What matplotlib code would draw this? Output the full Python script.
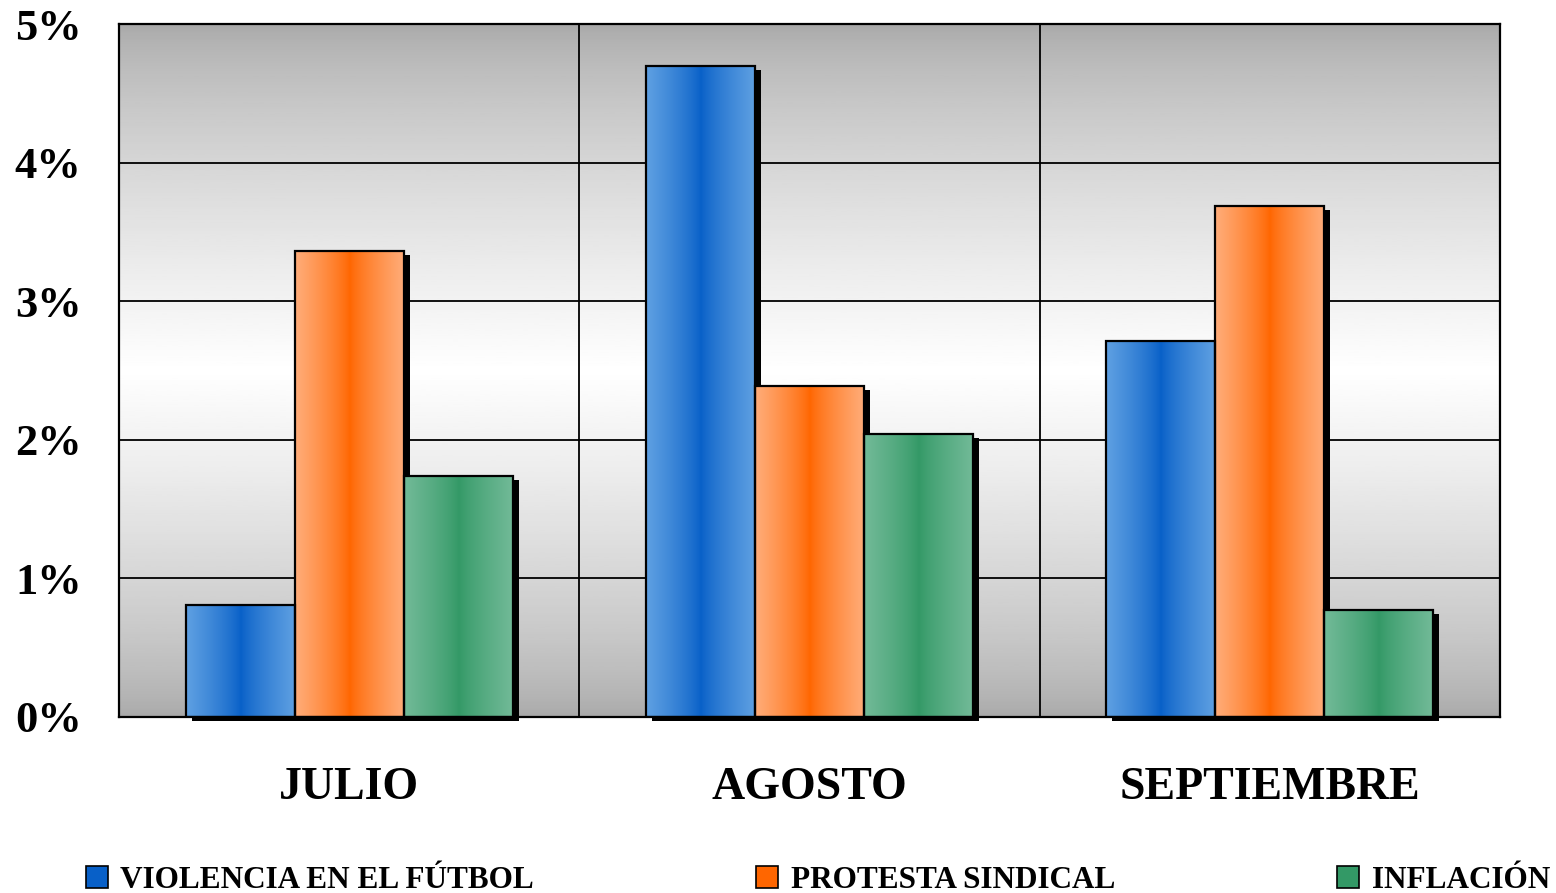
import numpy as np
import matplotlib
matplotlib.use('Agg')
import matplotlib.pyplot as plt
import matplotlib.transforms as mtransforms
from matplotlib.colors import LinearSegmentedColormap
from matplotlib.patches import Patch

# data
months = ['JULIO', 'AGOSTO', 'SEPTIEMBRE']
series = ['VIOLENCIA EN EL FÚTBOL', 'PROTESTA SINDICAL', 'INFLACIÓN']
violencia = [0.81, 4.70, 2.71]
protesta = [3.36, 2.39, 3.69]
inflacion = [1.74, 2.04, 0.77]
values = [violencia, protesta, inflacion]

# light edge / dark centre for each series
edge_colors = ['#5fa0e2', '#ffad7a', '#72ba98']
mid_colors = ['#0860c8', '#ff6600', '#339966']

plt.rcParams['font.family'] = ['Liberation Serif', 'DejaVu Serif']
plt.rcParams['font.weight'] = 'bold'

fig = plt.figure(figsize=(15.56, 8.93), dpi=100)
ax = fig.add_axes([119/1556, 1 - 717/893, (1500 - 119)/1556, (717 - 24)/893])

x = np.arange(len(months))
width = 0.237

# background: gray at top and bottom, white in the middle
t = np.linspace(0, 1, 256)
bg = 0.66 + 0.34 * (1 - np.abs(t - 0.5) / 0.5) ** 0.7
ax.imshow(bg[:, None], cmap='gray', vmin=0, vmax=1, aspect='auto',
          extent=[0, 1, 0, 1], transform=ax.transAxes, origin='lower', zorder=0)

shadow_off = mtransforms.ScaledTranslation(6/100, -4/100, fig.dpi_scale_trans)
grad = np.abs(np.linspace(-1, 1, 200)) ** 0.8

for i, vals in enumerate(values):
    cmap = LinearSegmentedColormap.from_list('c%d' % i, [mid_colors[i], edge_colors[i]])
    pos = x + (i - 1) * width
    # shadows
    ax.bar(pos, vals, width, color='black', zorder=2,
           transform=ax.transData + shadow_off, clip_on=False)
    bars = ax.bar(pos, vals, width, facecolor='none', edgecolor='black',
                  linewidth=1.6, zorder=4)
    for b in bars:
        im = ax.imshow(grad[None, :], cmap=cmap, vmin=0, vmax=1, aspect='auto',
                       extent=[b.get_x(), b.get_x() + b.get_width(), 0, b.get_height()],
                       zorder=3)
        im.set_clip_path(b)

ax.set_xlim(-0.5, 2.5)
ax.set_ylim(0, 5)

ax.set_yticks(range(6))
ax.set_yticklabels(['%d%%' % v for v in range(6)], fontsize=32, fontweight='bold')
ax.set_xticks(x)
ax.set_xticklabels(months, fontsize=33, fontweight='bold')
ax.set_xticks([0.5, 1.5], minor=True)
ax.tick_params(axis='y', length=0, pad=27)
ax.tick_params(axis='x', which='both', length=0, pad=36)
ax.grid(axis='y', color='black', linewidth=1.3, zorder=1)
ax.grid(axis='x', which='minor', color='black', linewidth=1.3, zorder=1)
ax.grid(axis='x', which='major', visible=False)
ax.set_axisbelow(True)
for s in ax.spines.values():
    s.set_linewidth(1.6)
    s.set_zorder(5)

handles = [Patch(facecolor=mid_colors[i], edgecolor='black', linewidth=1.2) for i in range(3)]
fig.legend(handles, series, loc='lower left', ncol=3, mode='expand',
           bbox_to_anchor=(86/1556, -0.002, (1550 - 86)/1556, 0.04),
           frameon=False, borderaxespad=0, borderpad=0,
           handlelength=0.7, handleheight=0.7, handletextpad=0.4,
           prop={'size': 22.5, 'weight': 'bold'})

fig.savefig('out.png', dpi=100)
